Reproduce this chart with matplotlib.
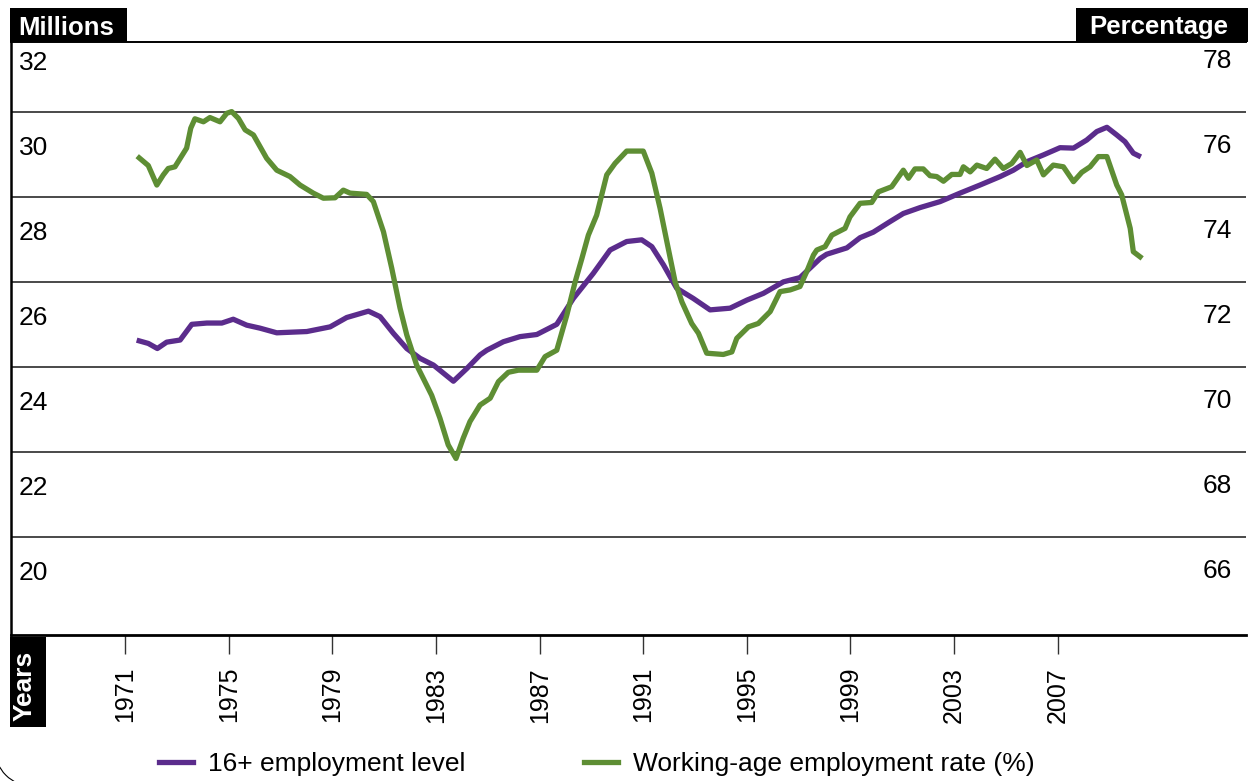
import matplotlib
matplotlib.use('Agg')
import matplotlib.pyplot as plt
from matplotlib.patches import Rectangle, Arc

plt.rcParams['font.family'] = ['Liberation Sans', 'DejaVu Sans']

# ---------------- data ----------------
years_level = [1971.54, 1971.89, 1972.24, 1972.60, 1973.12, 1973.57, 1974.15, 1974.73,
               1975.17, 1975.69, 1976.20, 1976.85, 1978.01, 1978.91, 1979.55, 1980.39,
               1980.84, 1981.35, 1981.87, 1982.38, 1982.90, 1983.67, 1984.19, 1984.70,
               1984.96, 1985.60, 1986.24, 1986.89, 1987.66, 1988.30, 1989.07, 1989.72,
               1990.36, 1990.94, 1991.33, 1991.78, 1992.29, 1992.93, 1993.58, 1994.35,
               1995.00, 1995.64, 1996.41, 1997.05, 1997.83, 1998.08, 1998.86, 1999.37,
               1999.88, 2000.53, 2001.04, 2001.69, 2002.46, 2003.23, 2004.00, 2004.78,
               2005.29, 2005.81, 2006.45, 2007.09, 2007.61, 2008.12, 2008.51, 2008.90,
               2009.28, 2009.60, 2009.92, 2010.12]
level_millions = [24.61, 24.55, 24.43, 24.58, 24.63, 25.00, 25.03, 25.03,
                  25.12, 24.98, 24.91, 24.80, 24.83, 24.94, 25.16, 25.31,
                  25.18, 24.79, 24.43, 24.20, 24.04, 23.66, 23.96, 24.28,
                  24.39, 24.59, 24.71, 24.76, 25.00, 25.61, 26.20, 26.75,
                  26.95, 26.99, 26.83, 26.40, 25.85, 25.61, 25.34, 25.38,
                  25.57, 25.73, 26.00, 26.10, 26.55, 26.65, 26.80, 27.04,
                  27.17, 27.42, 27.61, 27.75, 27.89, 28.09, 28.28, 28.48,
                  28.63, 28.83, 28.99, 29.16, 29.15, 29.34, 29.54, 29.64,
                  29.46, 29.30, 29.03, 28.97]

years_rate = [1971.54, 1971.89, 1972.22, 1972.47, 1972.66, 1972.92, 1973.37, 1973.53,
              1973.69, 1974.02, 1974.27, 1974.66, 1974.92, 1975.11, 1975.37, 1975.63,
              1975.95, 1976.46, 1976.85, 1977.36, 1977.75, 1978.26, 1978.65, 1979.10,
              1979.42, 1979.68, 1980.32, 1980.58, 1980.97, 1981.29, 1981.61, 1981.87,
              1982.25, 1982.83, 1983.15, 1983.47, 1983.77, 1984.05, 1984.31, 1984.70,
              1985.09, 1985.41, 1985.79, 1986.18, 1986.89, 1987.21, 1987.66, 1988.05,
              1988.37, 1988.63, 1988.88, 1989.20, 1989.59, 1989.91, 1990.36, 1991.00,
              1991.33, 1991.65, 1991.91, 1992.23, 1992.49, 1992.87, 1993.13, 1993.45,
              1994.09, 1994.42, 1994.61, 1995.06, 1995.44, 1995.90, 1996.28, 1996.67,
              1997.05, 1997.31, 1997.57, 1997.70, 1998.02, 1998.28, 1998.79, 1998.98,
              1999.37, 1999.82, 2000.08, 2000.59, 2001.04, 2001.24, 2001.49, 2001.81,
              2002.07, 2002.33, 2002.59, 2002.91, 2003.23, 2003.36, 2003.62, 2003.88,
              2004.26, 2004.58, 2004.90, 2005.23, 2005.55, 2005.81, 2006.19, 2006.45,
              2006.83, 2007.22, 2007.61, 2007.93, 2008.25, 2008.57, 2008.90, 2009.28,
              2009.47, 2009.80, 2009.92, 2010.18]
rate_pct = [74.92, 74.74, 74.28, 74.52, 74.67, 74.71, 75.15, 75.62,
            75.84, 75.77, 75.87, 75.77, 75.97, 76.01, 75.85, 75.58,
            75.46, 74.91, 74.63, 74.48, 74.28, 74.09, 73.97, 73.98,
            74.16, 74.09, 74.06, 73.89, 73.18, 72.32, 71.38, 70.75,
            70.04, 69.33, 68.79, 68.16, 67.84, 68.32, 68.71, 69.10,
            69.26, 69.65, 69.87, 69.92, 69.92, 70.24, 70.39, 71.22,
            72.00, 72.55, 73.10, 73.57, 74.52, 74.79, 75.08, 75.08,
            74.56, 73.73, 72.95, 72.00, 71.53, 71.02, 70.79, 70.32,
            70.29, 70.35, 70.67, 70.94, 71.02, 71.30, 71.77, 71.81,
            71.89, 72.24, 72.63, 72.75, 72.83, 73.10, 73.26, 73.53,
            73.85, 73.87, 74.12, 74.24, 74.63, 74.44, 74.66, 74.66,
            74.50, 74.48, 74.37, 74.53, 74.53, 74.71, 74.59, 74.75,
            74.67, 74.89, 74.67, 74.79, 75.05, 74.74, 74.87, 74.52,
            74.75, 74.71, 74.36, 74.58, 74.71, 74.95, 74.95, 74.28,
            74.05, 73.26, 72.71, 72.59]

tick_years = [1971, 1975, 1979, 1983, 1987, 1991, 1995, 1999, 2003, 2007]
left_labels = [32, 30, 28, 26, 24, 22, 20]
right_labels = [78, 76, 74, 72, 70, 68, 66]
legend_labels = ['16+ employment level', 'Working-age employment rate (%)']

PURPLE = '#5b2c8c'
GREEN = '#5e8e34'

# ---------------- figure ----------------
W, H = 1248, 781
fig = plt.figure(figsize=(W / 100, H / 100), dpi=100)
ax = fig.add_axes([11 / W, 1 - 635 / H, 1235 / W, 593 / H])
ax.set_xlim(1966.59, 2014.27)
ax.set_ylim(17.683, 31.649)
ax2 = ax.twinx()
ax2.set_ylim(63.683, 77.649)

for v in left_labels[1:]:
    ax.axhline(v, color='#3a3a3a', lw=1.3, zorder=1)

l1, = ax.plot(years_level, level_millions, color=PURPLE, lw=3.8, zorder=3,
              solid_joinstyle='round')
l2, = ax2.plot(years_rate, rate_pct, color=GREEN, lw=3.8, zorder=3,
               solid_joinstyle='round')

# spines
ax.spines['right'].set_visible(False)
ax.spines['left'].set_linewidth(1.8)
ax.spines['top'].set_linewidth(1.4)
ax.spines['bottom'].set_linewidth(2.0)
for s in ax2.spines.values():
    s.set_visible(False)

ax.set_yticks([])
ax2.set_yticks([])

ax.set_xticks(tick_years)
ax.set_xticklabels([str(y) for y in tick_years], rotation=90, fontsize=18)
ax.tick_params(axis='x', direction='out', length=14, width=1.0, color='#333333', pad=9)

# y labels sit in the band below their gridline
for v in left_labels:
    ax.annotate(str(v), xy=(0, v), xycoords=('axes fraction', 'data'),
                xytext=(8, -43), textcoords='offset pixels', ha='left', va='baseline',
                fontsize=19, annotation_clip=False)
for v in right_labels:
    ax2.annotate(str(v), xy=(1, v), xycoords=('axes fraction', 'data'),
                 xytext=(-14, -41), textcoords='offset pixels', ha='right', va='baseline',
                 fontsize=19, annotation_clip=False)


def fbox(x0, y0, x1, y1):
    return Rectangle((x0 / W, 1 - y1 / H), (x1 - x0) / W, (y1 - y0) / H,
                     transform=fig.transFigure, facecolor='black', edgecolor='none')


fig.add_artist(fbox(10, 8, 127, 42))
fig.text(66.5 / W, 1 - 35 / H, 'Millions', color='white', fontweight='bold',
         fontsize=18.5, ha='center', va='baseline')
fig.add_artist(fbox(1076, 8, 1248, 42))
fig.text(1159 / W, 1 - 34 / H, 'Percentage', color='white', fontweight='bold',
         fontsize=18.5, ha='center', va='baseline')
fig.add_artist(fbox(10, 637, 46, 727))
fig.text(25 / W, 1 - 686 / H, 'Years', color='white', fontweight='bold',
         fontsize=19, ha='center', va='center', rotation=90)

# legend
ax.legend([l1, l2], legend_labels, loc='center left',
          bbox_to_anchor=(159 / W, 1 - 764 / H), bbox_transform=fig.transFigure,
          ncol=2, frameon=False, fontsize=19, handlelength=1.3, handletextpad=0.55,
          columnspacing=4.5, borderpad=0, borderaxespad=0)

# corner arc of outer frame
fig.add_artist(Arc((32 / W, 32 / H), 74 / W, 74 / H, theta1=180, theta2=270,
                   transform=fig.transFigure, color='black', lw=0.8))

fig.savefig('out.png', dpi=100)
